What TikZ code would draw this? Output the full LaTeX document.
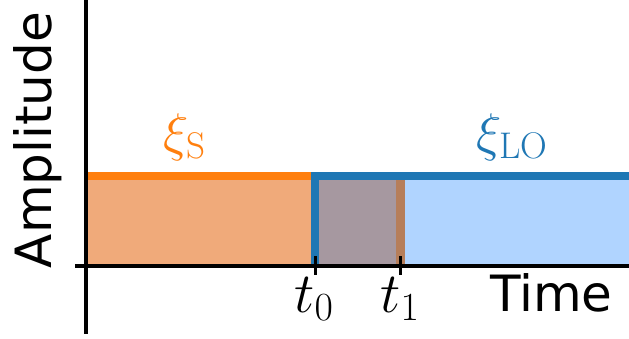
\RequirePackage{fix-cm}
\documentclass[tikz,border=0pt]{standalone}
\usepackage{fontspec}
\newfontfamily\dejavu{DejaVu Sans}
\definecolor{laranja}{RGB}{255,127,14}
\definecolor{azul}{RGB}{31,119,180}
\definecolor{laranjaclaro}{RGB}{240,170,122}
\definecolor{azulclaro}{RGB}{176,212,255}
\definecolor{cinza}{RGB}{166,152,160}
\definecolor{marrom}{RGB}{182,126,90}
\begin{document}
\begin{tikzpicture}[x=1pt, y=1pt,
  eixo/.style={line width=4.5pt, black},
  sinal/.style={line width=8pt, line join=miter},
  marca/.style={line width=3pt, black},
  rotulo/.style={font=\dejavu\fontsize{50}{60}\selectfont, inner sep=0pt}]
\useasboundingbox (0,0) rectangle (629,339);
% Pontos principais
\coordinate (origem) at (86,73);
\coordinate (topoY) at (86,339);
\coordinate (fimY) at (86,5);
\coordinate (inicioX) at (75,73);
\coordinate (fimX) at (629,73);
\coordinate (T0) at (315,73);
\coordinate (T1) at (400,73);

% Areas sob os sinais
\fill[laranjaclaro] (88,73) rectangle (315,159);
\fill[cinza] (315,73) rectangle (396,159);
\fill[marrom] (396,73) rectangle (405,159);
\fill[azulclaro] (405,73) rectangle (629,159);

% Sinal S e oscilador local
\coordinate (inicioS) at (87,163);
\coordinate (fimS) at (311,163);
\coordinate (cantoLO) at (315,163);
\coordinate (fimLO) at (629,163);
\draw[sinal, laranja] (inicioS) -- (fimS);
\draw[sinal, azul] (T0) -- (cantoLO) -- (fimLO);
\node[font=\fontsize{53}{64}\selectfont, laranja] (xiS) at (185,202) {$\xi_\mathrm{S}$};
\node[font=\fontsize{53}{64}\selectfont, azul] (xiLO) at (512,202) {$\xi_\mathrm{LO}$};

% Eixos
\draw[eixo] (topoY) -- (fimY);
\draw[eixo] (inicioX) -- (fimX);
\node[rotulo, rotate=90, anchor=base] (amp) at (51,199) {Amplitude};
\node[rotulo, anchor=base west] (tempo) at (490,27) {Time};

% Marcas t0 e t1
\draw[marca] ([yshift=-9pt]T0) -- ([yshift=10pt]T0);
\draw[marca] ([yshift=-9pt]T1) -- ([yshift=10pt]T1);
\node[font=\fontsize{57}{68}\selectfont, anchor=north, inner sep=0pt] (lblT0) at (314,62) {$t_0$};
\node[font=\fontsize{57}{68}\selectfont, anchor=north, inner sep=0pt] (lblT1) at (400,62) {$t_1$};
\end{tikzpicture}
\end{document}
